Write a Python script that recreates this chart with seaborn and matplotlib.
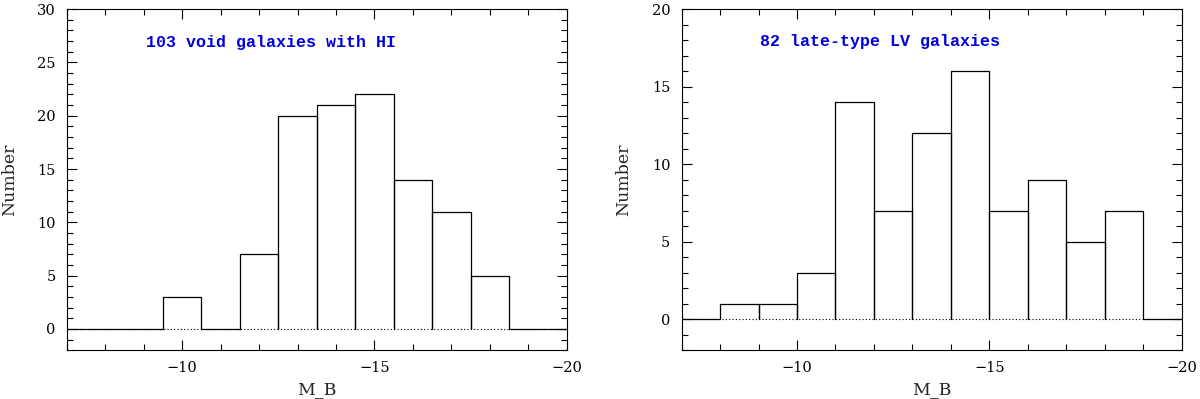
import numpy as np
import pandas as pd
import matplotlib
matplotlib.use("Agg")
import matplotlib.pyplot as plt
import seaborn as sns
from matplotlib.ticker import MultipleLocator

# данные гистограмм (центры бинов и число галактик)
mag_void = [-7, -8, -9, -10, -11, -12, -13, -14, -15, -16, -17, -18, -19, -20]
n_void = [0, 0, 0, 3, 0, 7, 20, 21, 22, 14, 11, 5, 0, 0]
edges_void = [-20.5, -19.5, -18.5, -17.5, -16.5, -15.5, -14.5, -13.5, -12.5,
              -11.5, -10.5, -9.5, -8.5, -7.5, -6.5]

mag_lv = [-7.5, -8.5, -9.5, -10.5, -11.5, -12.5, -13.5, -14.5, -15.5, -16.5,
          -17.5, -18.5, -19.5]
n_lv = [0, 1, 1, 3, 14, 7, 12, 16, 7, 9, 5, 7, 0]
edges_lv = [-20, -19, -18, -17, -16, -15, -14, -13, -12, -11, -10, -9, -8, -7]

labels = ["103 void galaxies with HI", "82 late-type LV galaxies"]
ylims = [(-2, 30), (-2, 20)]
text_y = [26.9, 17.9]

sns.set_style("white")
plt.rcParams["font.family"] = ["DejaVu Serif"]

fig = plt.figure(figsize=(12, 3.99), dpi=100)
ax1 = fig.add_axes([0.0556, 0.122, 0.4167, 0.8552])
ax2 = fig.add_axes([0.568, 0.122, 0.4167, 0.8552])

panels = [(ax1, mag_void, n_void, edges_void), (ax2, mag_lv, n_lv, edges_lv)]

for i, (ax, mag, n, edges) in enumerate(panels):
    df = pd.DataFrame({"M_B": mag, "N": n})
    ax.axhline(0, color="black", ls=(0, (1, 2)), lw=0.8, zorder=0.5)
    sns.histplot(data=df, x="M_B", weights="N", bins=edges, element="bars",
                 fill=False, color="black", linewidth=0.9, ax=ax)
    # у ненулевых столбцов нижняя граница не рисуется (там пунктир)
    for p in list(ax.patches):
        h = p.get_height()
        if h > 0:
            x0 = p.get_x()
            x1 = x0 + p.get_width()
            p.set_visible(False)
            ax.plot([x0, x0, x1, x1], [0, h, h, 0], color="black", lw=0.9)

    ax.set_xlim(-7, -20)
    ax.set_ylim(*ylims[i])
    ax.xaxis.set_major_locator(MultipleLocator(5))
    ax.xaxis.set_minor_locator(MultipleLocator(1))
    ax.yaxis.set_major_locator(MultipleLocator(5))
    ax.yaxis.set_minor_locator(MultipleLocator(1))
    ax.tick_params(which="both", direction="in", top=True, right=True,
                   bottom=True, left=True, width=0.8, colors="black")
    ax.tick_params(which="major", length=7.5, labelsize=10.5, pad=8)
    ax.tick_params(which="minor", length=4.3)
    ax.set_xticks([-10, -15, -20])
    for s in ax.spines.values():
        s.set_color("black")
        s.set_linewidth(0.8)

    ax.set_xlabel("M_B", fontsize=12.5)
    ax.set_ylabel("Number", fontsize=12.5)
    ax.xaxis.set_label_coords(0.5, -0.09)
    ax.yaxis.set_label_coords(-0.098, 0.5)

    ax.text(-9.05, text_y[i], labels[i], color="#0000dd", fontsize=12,
            family="Liberation Mono", weight="bold", ha="left", va="center")

fig.savefig("out.png", dpi=100)
